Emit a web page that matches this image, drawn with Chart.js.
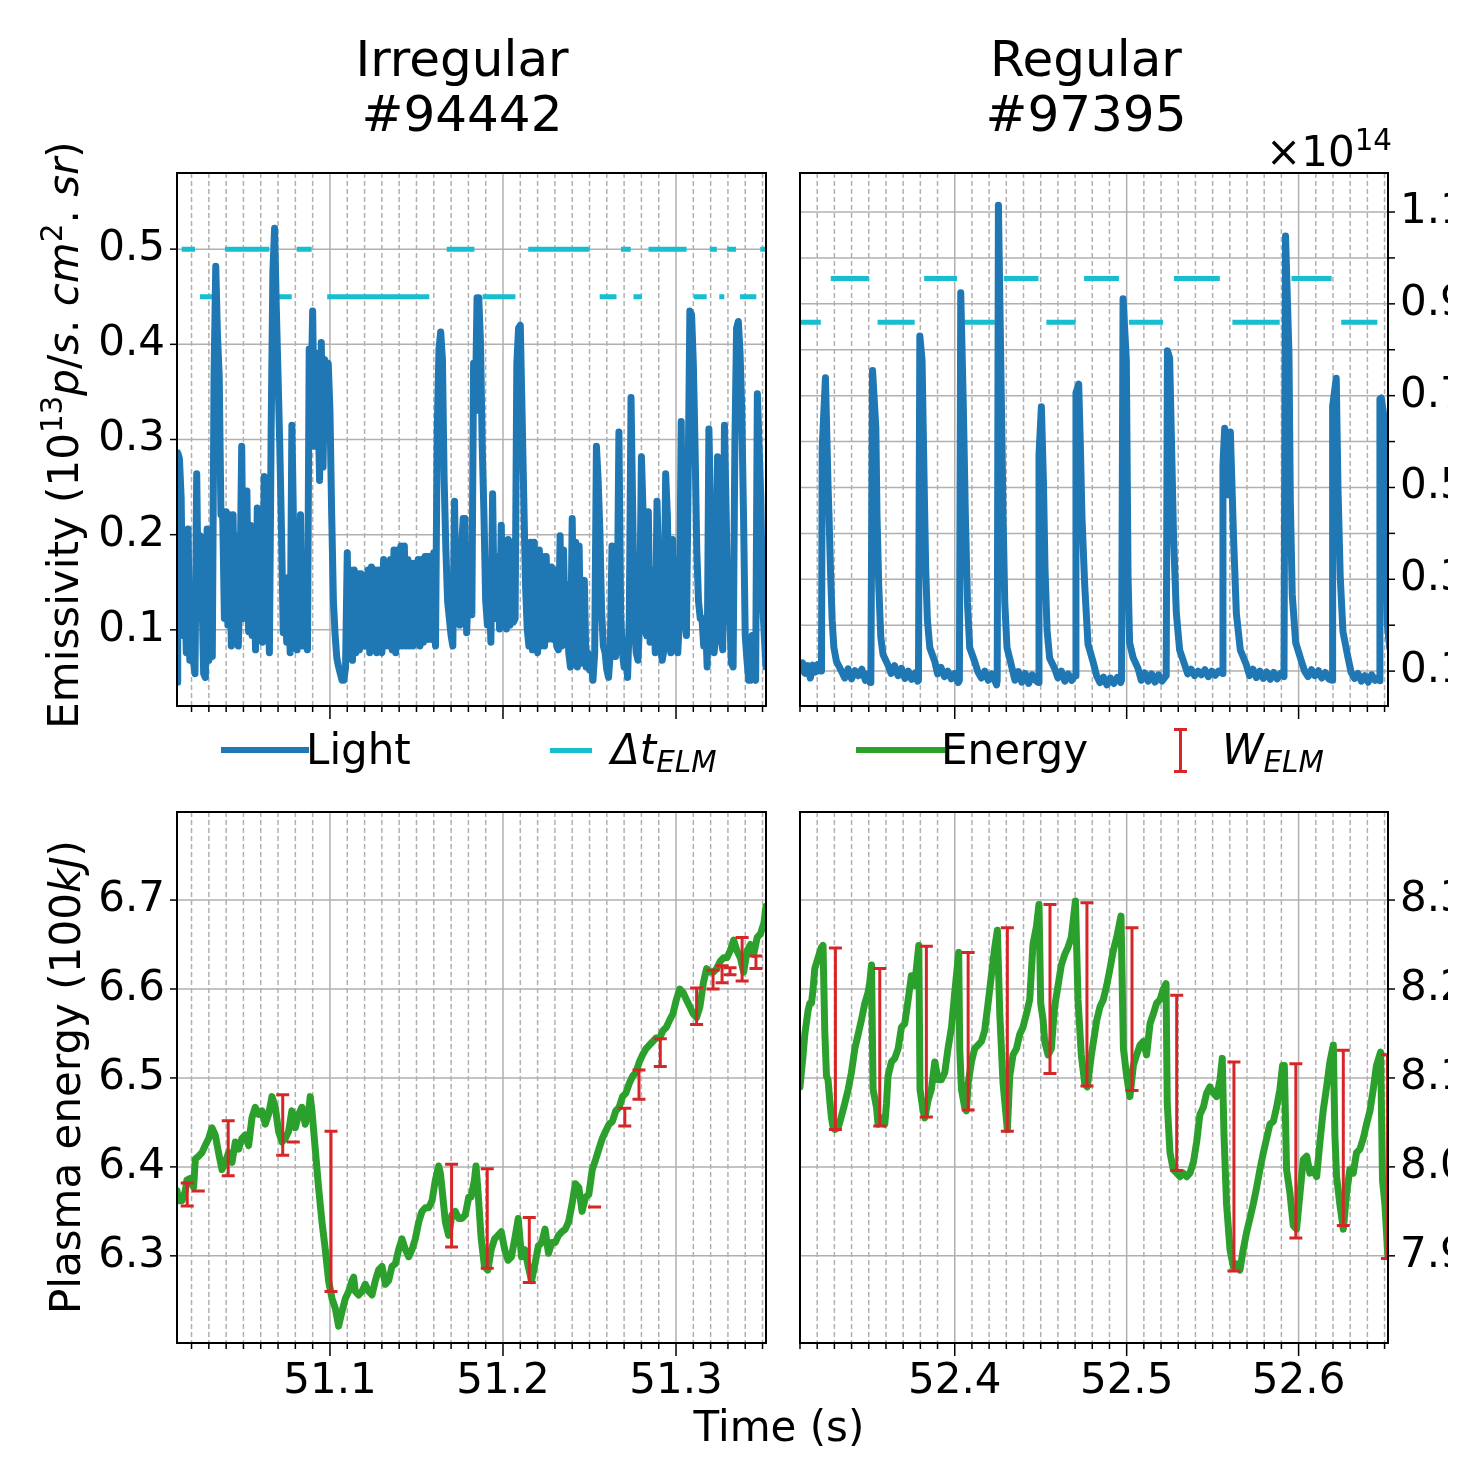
<!DOCTYPE html>
<html>
<head>
<meta charset="utf-8">
<script src="https://cdn.jsdelivr.net/npm/chart.js@4.4.1/dist/chart.umd.min.js"></script>
<style>
  body { margin: 0; width: 1463px; height: 1458px; overflow: hidden; position: relative; background: #fff; font-family: "DejaVu Sans", sans-serif; }
  canvas { position: absolute; left: 0; top: 0; }
  .txt { position: absolute; font-size: 42px; line-height: 42px; color: #000; white-space: nowrap; z-index: 5; }
  .title { position: absolute; font-size: 50px; line-height: 55px; text-align: center; transform: translateX(-50%); white-space: nowrap; z-index: 5; }
  .rot { transform: translate(-50%, -50%) rotate(-90deg); }
  .hl { position: absolute; z-index: 5; }
  sup { font-size: 70%; position: relative; top: -0.55em; vertical-align: baseline; }
  sub { font-size: 70%; position: relative; top: 0.28em; vertical-align: baseline; }
</style>
</head>
<body>
<canvas id="tl" width="1463" height="1458"></canvas>
<canvas id="tr" width="1463" height="1458"></canvas>
<canvas id="bl" width="1463" height="1458"></canvas>
<canvas id="br" width="1463" height="1458"></canvas>

<div class="title" style="left:462px;top:32px">Irregular<br>#94442</div>
<div class="title" style="left:1086px;top:32px">Regular<br>#97395</div>
<div class="txt" style="left:1266px;top:131px">×10<sup>14</sup></div>
<div class="txt rot" style="left:66px;top:435px">Emissivity (10<sup>13</sup><i>p</i>/<i>s</i>. <i>cm</i><sup>2</sup>. <i>sr</i>)</div>
<div class="txt rot" style="left:66px;top:1077px">Plasma energy (100<i>kJ</i>)</div>
<div class="txt" style="left:779px;top:1406px;transform:translateX(-50%)">Time (s)</div>

<div class="hl" style="left:221px;top:747px;width:88px;height:6px;background:#1f77b4"></div>
<div class="txt" style="left:306px;top:729px">Light</div>
<div class="hl" style="left:550px;top:748px;width:42px;height:5px;background:#17becf"></div>
<div class="txt" style="left:611px;top:729px"><i>Δt<sub>ELM</sub></i></div>
<div class="hl" style="left:856px;top:747px;width:89px;height:6px;background:#2ca02c"></div>
<div class="txt" style="left:941px;top:729px">Energy</div>
<div class="hl" style="left:1179px;top:729px;width:3px;height:43px;background:#d62728"></div>
<div class="hl" style="left:1174px;top:728px;width:13px;height:3px;background:#d62728"></div>
<div class="hl" style="left:1174px;top:770px;width:13px;height:3px;background:#d62728"></div>
<div class="txt" style="left:1222px;top:729px"><i>W<sub>ELM</sub></i></div>

<script>
// ---------- data ----------
// irregular shot #94442 : light signal (1e13 p/s.cm2.sr)
const tLightL = [51.0116,
51.012,51.013,51.014,51.015,51.016,51.017,51.018,51.019,51.020,51.021,
51.022,51.023,51.024,51.025,51.026,51.027,51.028,51.029,51.030,51.031,
51.032,51.033,51.034,51.035,51.036,51.037,51.038,51.039,51.040,51.041,
51.042,51.043,51.044,51.045,51.046,51.047,51.048,51.049,51.050,51.051,
51.052,51.053,51.054,51.055,51.056,51.057,51.058,51.059,51.060,51.061,
51.062,51.063,51.064,51.065,51.066,51.067,51.068,51.069,51.070,51.071,
51.072,51.073,51.074,51.075,51.076,51.077,51.078,51.079,51.080,51.081,
51.082,51.083,51.084,51.085,51.086,51.087,51.088,51.089,51.090,51.091,
51.092,51.093,51.094,51.095,51.096,51.097,51.098,51.099,51.100,51.101,
51.102,51.103,51.104,51.105,51.106,51.107,51.108,51.109,51.110,51.111,
51.112,51.113,51.114,51.115,51.116,51.117,51.118,51.119,51.120,51.121,
51.122,51.123,51.124,51.125,51.126,51.127,51.128,51.129,51.130,51.131,
51.132,51.133,51.134,51.135,51.136,51.137,51.138,51.139,51.140,51.141,
51.142,51.143,51.144,51.145,51.146,51.147,51.148,51.149,51.150,51.151,
51.152,51.153,51.154,51.155,51.156,51.157,51.158,51.159,51.160,51.161,
51.162,51.163,51.164,51.165,51.166,51.167,51.168,51.169,51.170,51.171,
51.172,51.173,51.174,51.175,51.176,51.177,51.178,51.179,51.180,51.181,
51.182,51.183,51.184,51.185,51.186,51.187,51.188,51.189,51.190,51.191,
51.192,51.193,51.194,51.195,51.196,51.197,51.198,51.199,51.200,51.201,
51.202,51.203,51.204,51.205,51.206,51.207,51.208,51.209,51.210,51.211,
51.212,51.213,51.214,51.215,51.216,51.217,51.218,51.219,51.220,51.221,
51.222,51.223,51.224,51.225,51.226,51.227,51.228,51.229,51.230,51.231,
51.232,51.233,51.234,51.235,51.236,51.237,51.238,51.239,51.240,51.241,
51.242,51.243,51.244,51.245,51.246,51.247,51.248,51.249,51.250,51.251,
51.252,51.253,51.254,51.255,51.256,51.257,51.258,51.259,51.260,51.261,
51.262,51.263,51.264,51.265,51.266,51.267,51.268,51.269,51.270,51.271,
51.272,51.273,51.274,51.275,51.276,51.277,51.278,51.279,51.280,51.281,
51.282,51.283,51.284,51.285,51.286,51.287,51.288,51.289,51.290,51.291,
51.292,51.293,51.294,51.295,51.296,51.297,51.298,51.299,51.300,51.301,
51.302,51.303,51.304,51.305,51.306,51.307,51.308,51.309,51.310,51.311,
51.312,51.313,51.314,51.315,51.316,51.317,51.318,51.319,51.320,51.321,
51.322,51.323,51.324,51.325,51.326,51.327,51.328,51.329,51.330,51.331,
51.332,51.333,51.334,51.335,51.336,51.337,51.338,51.339,51.340,51.341,
51.342,51.343,51.344,51.345,51.346,51.347,51.348,51.349,51.350,51.351,
51.352];
const lightL = [0.045,
0.286,0.280,0.239,0.094,0.148,0.076,0.206,0.068,0.134,0.068,0.054,0.264,0.112,0.199,
0.141,0.054,0.050,0.206,0.068,0.156,0.072,0.366,0.482,0.409,0.366,0.221,0.221,0.112,0.224,0.105,0.221,0.083,0.221,0.105,0.199,0.083,0.148,0.293,0.112,0.221,
0.246,0.098,0.210,0.094,0.155,0.079,0.228,0.112,0.221,0.087,0.261,0.112,0.155,0.076,0.308,0.475,0.522,0.438,0.366,0.293,0.203,0.097,0.148,0.087,0.155,0.076,
0.315,0.203,0.130,0.079,0.148,0.221,0.083,0.130,0.159,0.079,0.395,0.337,0.435,0.293,0.391,0.348,0.257,0.402,0.271,0.384,0.377,0.380,0.330,0.221,0.130,0.094,
0.070,0.061,0.054,0.047,0.047,0.060,0.181,0.072,0.163,0.068,0.163,0.076,0.159,0.079,0.159,0.083,0.155,0.083,0.163,0.076,0.166,0.079,0.163,0.076,0.163,0.079,
0.076,0.174,0.083,0.170,0.083,0.174,0.079,0.184,0.076,0.184,0.083,0.188,0.083,0.188,0.083,0.174,0.083,0.170,0.083,0.170,0.087,0.174,0.083,0.174,0.087,0.177,
0.177,0.090,0.177,0.090,0.181,0.083,0.311,0.395,0.413,0.384,0.257,0.184,0.130,0.112,0.094,0.083,0.235,0.112,0.148,0.105,0.184,0.217,
0.217,0.097,0.148,0.188,0.116,0.380,0.330,0.449,0.449,0.402,0.293,0.221,0.130,0.105,0.148,0.087,0.243,0.112,
0.112,0.177,0.101,0.210,0.112,0.177,0.101,0.195,0.105,0.192,0.108,0.112,0.380,0.417,0.420,0.330,0.239,0.148,0.101,0.083,0.192,0.079,0.192,0.083,0.076,0.184,0.083,0.177,0.083,0.177,0.090,0.116,0.166,0.090,0.163,0.083,
0.079,0.199,0.083,0.184,0.094,0.148,0.076,0.061,0.217,0.087,0.192,0.061,0.188,0.065,0.130,0.152,0.061,0.076,0.058,0.065,0.047,0.076,0.293,0.257,0.203,0.119,0.083,0.076,0.058,0.050,0.076,0.188,0.112,0.072,0.112,0.308,
0.116,0.076,0.061,0.076,0.050,0.112,0.344,0.221,0.101,0.076,0.068,0.112,0.282,0.221,0.101,0.094,0.224,0.087,0.097,0.163,0.076,0.235,0.166,0.083,0.068,0.079,0.264,0.221,0.112,0.076,0.195,0.079,0.174,0.076,0.112,0.319,
0.112,0.116,0.094,0.257,0.435,0.431,0.380,0.293,0.184,0.130,0.112,0.112,0.083,0.112,0.061,0.311,0.221,0.148,0.076,0.094,0.282,0.221,0.094,0.079,0.315,0.221,0.112,0.116,0.065,0.061,0.293,0.417,0.424,0.391,0.330,0.221,
0.094,0.068,0.047,0.047,0.094,0.050,0.047,0.348,0.293,0.239,0.130,0.094,0.061];

// inter-ELM time bars (start, end, level)
const dtStartL = [51.0105,51.0143,51.0249,51.0393,51.0692,51.0808,51.0984,51.1675,51.1882,51.2146,51.2559,51.2682,51.2754,51.2841,51.3104,51.3195,51.3250,51.3295,51.3370,51.3487];
const dtEndL   = [51.0118,51.0220,51.0335,51.0649,51.0779,51.0894,51.1574,51.1835,51.2072,51.2501,51.2656,51.2738,51.2802,51.3061,51.3177,51.3236,51.3279,51.3347,51.3464,51.3540];
const dtLevelL = [0.45,0.5,0.45,0.5,0.45,0.5,0.45,0.5,0.45,0.5,0.45,0.5,0.45,0.5,0.45,0.5,0.45,0.5,0.45,0.5];

// plasma energy (100 kJ)
const energyL = [[51.0116,6.373],[51.0125,6.362],[51.0145,6.362],[51.0164,6.373],[51.0173,6.385],[51.0193,6.387],[51.0212,6.377],[51.0222,6.409],[51.0241,6.412],[51.0260,6.416],
[51.0279,6.424],[51.0299,6.432],[51.0318,6.444],[51.0337,6.436],[51.0356,6.416],[51.0376,6.397],[51.0395,6.405],[51.0414,6.416],[51.0434,6.405],[51.0453,6.428],
[51.0472,6.420],[51.0491,6.432],[51.0511,6.436],[51.0530,6.424],[51.0549,6.455],[51.0568,6.467],[51.0588,6.459],[51.0607,6.463],[51.0626,6.448],[51.0645,6.459],
[51.0665,6.479],[51.0684,6.467],[51.0703,6.440],[51.0723,6.428],[51.0742,6.432],[51.0761,6.440],[51.0780,6.463],[51.0800,6.444],[51.0819,6.459],[51.0838,6.467],
[51.0857,6.448],[51.0877,6.463],[51.0886,6.479],[51.0896,6.463],[51.0915,6.420],[51.0934,6.377],[51.0954,6.338],[51.0973,6.307],[51.0992,6.272],[51.1012,6.252],
[51.1031,6.241],[51.1050,6.221],[51.1069,6.237],[51.1089,6.252],[51.1108,6.260],[51.1127,6.272],[51.1137,6.276],[51.1146,6.260],[51.1166,6.256],[51.1185,6.260],
[51.1204,6.268],[51.1224,6.260],[51.1243,6.256],[51.1262,6.272],[51.1281,6.284],[51.1301,6.288],[51.1320,6.268],[51.1339,6.272],[51.1358,6.288],[51.1378,6.291],
[51.1397,6.307],[51.1416,6.319],[51.1436,6.307],[51.1455,6.299],[51.1474,6.307],[51.1493,6.319],[51.1513,6.338],[51.1532,6.350],[51.1551,6.354],[51.1570,6.354],
[51.1590,6.362],[51.1609,6.385],[51.1628,6.401],[51.1638,6.393],[51.1647,6.377],[51.1667,6.338],[51.1686,6.323],[51.1705,6.346],[51.1724,6.350],[51.1744,6.342],
[51.1763,6.342],[51.1782,6.346],[51.1802,6.366],[51.1815,6.366],[51.1835,6.385],[51.1844,6.401],[51.1854,6.377],[51.1874,6.319],[51.1893,6.288],[51.1912,6.284],
[51.1932,6.307],[51.1951,6.319],[51.1971,6.323],[51.1990,6.327],[51.2010,6.307],[51.2029,6.295],[51.2049,6.299],[51.2068,6.319],[51.2088,6.342],[51.2107,6.299],
[51.2126,6.307],[51.2146,6.288],[51.2165,6.272],[51.2185,6.291],[51.2204,6.311],[51.2224,6.315],[51.2243,6.330],[51.2263,6.303],[51.2282,6.315],[51.2302,6.315],
[51.2321,6.323],[51.2340,6.327],[51.2360,6.330],[51.2379,6.338],[51.2399,6.358],[51.2418,6.381],[51.2438,6.377],[51.2457,6.350],[51.2477,6.366],[51.2496,6.369],
[51.2516,6.397],[51.2535,6.408],[51.2554,6.420],[51.2574,6.432],[51.2593,6.440],[51.2613,6.448],[51.2632,6.451],[51.2652,6.463],[51.2671,6.467],[51.2691,6.479],
[51.2710,6.483],[51.2730,6.494],[51.2749,6.502],[51.2768,6.506],[51.2788,6.518],[51.2807,6.526],[51.2827,6.533],[51.2846,6.537],[51.2866,6.541],[51.2885,6.545],
[51.2905,6.545],[51.2924,6.553],[51.2944,6.557],[51.2963,6.565],[51.2982,6.572],[51.3002,6.588],[51.3021,6.600],[51.3041,6.596],[51.3060,6.588],[51.3080,6.580],
[51.3099,6.572],[51.3119,6.568],[51.3138,6.580],[51.3158,6.607],[51.3177,6.623],[51.3196,6.619],[51.3216,6.619],[51.3235,6.623],[51.3255,6.631],[51.3274,6.635],
[51.3294,6.635],[51.3313,6.643],[51.3333,6.655],[51.3352,6.643],[51.3372,6.635],[51.3391,6.619],[51.3411,6.643],[51.3430,6.650],[51.3449,6.639],[51.3469,6.658],
[51.3488,6.662],[51.3508,6.674],[51.3520,6.693]];

// ELM energy drops (time, before, after)
const welmTL   = [51.0175,51.0239,51.0412,51.0727,51.0788,51.1006,51.1703,51.1909,51.2152,51.2529,51.2704,51.2786,51.2909,51.3119,51.3214,51.3266,51.3312,51.3382,51.3462];
const welmTopL = [6.382,6.373,6.452,6.481,6.428,6.440,6.403,6.398,6.343,6.355,6.466,6.509,6.544,6.601,6.621,6.626,6.624,6.658,6.637];
const welmBotL = [6.356,6.373,6.390,6.413,6.428,6.260,6.310,6.286,6.270,6.355,6.446,6.476,6.513,6.560,6.600,6.607,6.616,6.609,6.623];

// regular shot #97395 : light signal (1e14)
const lightR = [[52.3100,0.100],[52.3115,0.118],[52.3130,0.095],[52.3145,0.112],[52.3160,0.085],[52.3175,0.113],[52.3190,0.098],[52.3205,0.115],[52.3218,0.100],
[52.3225,0.100],[52.3229,0.586],[52.3248,0.739],[52.3263,0.504],[52.3269,0.436],[52.3277,0.324],[52.3287,0.211],[52.3297,0.151],[52.3312,0.121],[52.3341,0.100],
[52.3360,0.085],[52.3380,0.105],[52.3400,0.083],[52.3420,0.101],[52.3440,0.090],[52.3460,0.104],[52.3480,0.080],[52.3500,0.095],[52.3508,0.075],
[52.3512,0.080],[52.3522,0.755],[52.3541,0.631],[52.3548,0.436],[52.3558,0.286],[52.3570,0.174],[52.3583,0.136],[52.3612,0.113],
[52.3630,0.095],[52.3650,0.112],[52.3670,0.090],[52.3690,0.106],[52.3710,0.084],[52.3730,0.100],[52.3750,0.082],[52.3770,0.096],[52.3785,0.078],
[52.3789,0.080],[52.3797,0.830],[52.3810,0.777],[52.3822,0.511],[52.3831,0.324],[52.3841,0.211],[52.3855,0.151],[52.3884,0.121],
[52.3900,0.094],[52.3920,0.108],[52.3940,0.088],[52.3960,0.100],[52.3980,0.083],[52.4000,0.095],[52.4020,0.075],
[52.4027,0.080],[52.4035,0.924],[52.4050,0.676],[52.4062,0.436],[52.4074,0.249],[52.4087,0.151],[52.4116,0.121],
[52.4135,0.098],[52.4155,0.085],[52.4175,0.100],[52.4195,0.080],[52.4215,0.094],[52.4235,0.078],[52.4243,0.070],
[52.4247,0.080],[52.4254,1.115],[52.4271,0.691],[52.4281,0.436],[52.4291,0.249],[52.4304,0.151],[52.4329,0.113],
[52.4350,0.080],[52.4370,0.099],[52.4390,0.076],[52.4410,0.095],[52.4430,0.073],[52.4450,0.092],[52.4470,0.080],[52.4486,0.075],
[52.4490,0.571],[52.4504,0.676],[52.4516,0.511],[52.4525,0.324],[52.4537,0.189],[52.4552,0.128],[52.4581,0.106],
[52.4600,0.085],[52.4620,0.100],[52.4640,0.078],[52.4660,0.094],[52.4680,0.080],[52.4700,0.090],
[52.4705,0.706],[52.4721,0.725],[52.4731,0.586],[52.4740,0.436],[52.4756,0.286],[52.4775,0.159],[52.4804,0.121],
[52.4825,0.090],[52.4845,0.075],[52.4865,0.087],[52.4885,0.070],[52.4905,0.085],[52.4925,0.073],[52.4945,0.086],[52.4965,0.075],
[52.4970,0.080],[52.4979,0.911],[52.4998,0.778],[52.5008,0.307],[52.5017,0.162],[52.5037,0.130],[52.5066,0.106],
[52.5085,0.080],[52.5105,0.096],[52.5125,0.078],[52.5145,0.094],[52.5165,0.076],[52.5185,0.092],[52.5205,0.078],[52.5225,0.088],
[52.5230,0.090],[52.5237,0.798],[52.5250,0.782],[52.5273,0.387],[52.5289,0.226],[52.5308,0.146],[52.5337,0.114],
[52.5355,0.094],[52.5375,0.104],[52.5395,0.090],[52.5415,0.100],[52.5435,0.092],[52.5455,0.103],[52.5475,0.088],[52.5495,0.100],[52.5515,0.091],[52.5535,0.100],[52.5555,0.095],
[52.5560,0.548],[52.5570,0.629],[52.5580,0.605],[52.5589,0.484],[52.5603,0.621],[52.5622,0.387],[52.5638,0.226],[52.5661,0.146],[52.5696,0.114],
[52.5715,0.090],[52.5735,0.104],[52.5755,0.086],[52.5775,0.100],[52.5795,0.084],[52.5815,0.098],[52.5835,0.082],[52.5855,0.097],[52.5875,0.083],[52.5895,0.095],[52.5915,0.088],
[52.5919,0.500],[52.5924,1.048],[52.5944,0.790],[52.5952,0.468],[52.5963,0.267],[52.5983,0.162],[52.6016,0.122],
[52.6035,0.100],[52.6055,0.088],[52.6075,0.103],[52.6095,0.090],[52.6115,0.101],[52.6135,0.085],[52.6155,0.097],[52.6175,0.083],[52.6195,0.080],
[52.6198,0.677],[52.6219,0.738],[52.6229,0.500],[52.6242,0.307],[52.6258,0.186],[52.6287,0.130],
[52.6305,0.098],[52.6325,0.084],[52.6345,0.095],[52.6365,0.078],[52.6385,0.090],[52.6405,0.076],[52.6425,0.092],[52.6445,0.080],[52.6465,0.086],[52.6471,0.079],
[52.6473,0.693],[52.6481,0.695],[52.6494,0.661],[52.6505,0.450],[52.6516,0.202],[52.6530,0.150]];

const dtStartR = [52.3090,52.3279,52.3551,52.3822,52.4058,52.4285,52.4533,52.4752,52.5013,52.5275,52.5615,52.5959,52.6248,52.6516];
const dtEndR   = [52.3221,52.3500,52.3767,52.4013,52.4233,52.4487,52.4703,52.4955,52.5211,52.5542,52.5890,52.6192,52.6458,52.6540];
const dtLevelR = [0.86,0.955,0.86,0.955,0.86,0.955,0.86,0.955,0.86,0.955,0.86,0.955,0.86,0.955];

const energyR = [[52.3100,8.090],[52.3118,8.126],[52.3128,8.149],[52.3147,8.176],[52.3157,8.184],[52.3167,8.184],[52.3176,8.200],[52.3186,8.223],[52.3205,8.235],[52.3225,8.247],
[52.3234,8.249],[52.3244,8.153],[52.3254,8.102],[52.3263,8.098],[52.3273,8.075],[52.3283,8.055],[52.3293,8.044],[52.3302,8.042],[52.3322,8.044],[52.3341,8.057],
[52.3360,8.071],[52.3380,8.087],[52.3399,8.106],[52.3419,8.133],[52.3438,8.149],[52.3457,8.165],[52.3477,8.184],[52.3496,8.196],[52.3506,8.208],[52.3516,8.227],
[52.3525,8.087],[52.3545,8.067],[52.3554,8.048],[52.3574,8.055],[52.3593,8.048],[52.3603,8.071],[52.3612,8.102],[52.3632,8.118],[52.3651,8.122],[52.3671,8.133],
[52.3690,8.157],[52.3709,8.161],[52.3729,8.188],[52.3748,8.215],[52.3767,8.204],[52.3777,8.223],[52.3791,8.249],[52.3798,8.087],[52.3816,8.063],[52.3826,8.055],
[52.3845,8.075],[52.3864,8.087],[52.3884,8.118],[52.3903,8.098],[52.3922,8.098],[52.3942,8.106],[52.3961,8.133],[52.3981,8.157],[52.4000,8.196],[52.4023,8.241],
[52.4029,8.133],[52.4039,8.087],[52.4058,8.067],[52.4068,8.063],[52.4078,8.094],[52.4097,8.118],[52.4116,8.133],[52.4136,8.137],[52.4155,8.141],[52.4174,8.153],
[52.4194,8.184],[52.4213,8.215],[52.4233,8.247],[52.4248,8.266],[52.4262,8.172],[52.4281,8.094],[52.4306,8.042],[52.4320,8.102],[52.4339,8.126],[52.4359,8.133],
[52.4378,8.149],[52.4397,8.157],[52.4417,8.172],[52.4436,8.188],[52.4455,8.250],[52.4475,8.270],[52.4490,8.295],[52.4500,8.184],[52.4514,8.165],[52.4523,8.141],
[52.4543,8.126],[52.4562,8.133],[52.4581,8.180],[52.4601,8.204],[52.4620,8.227],[52.4640,8.239],[52.4659,8.247],[52.4678,8.258],[52.4702,8.299],[52.4717,8.188],
[52.4736,8.126],[52.4756,8.094],[52.4771,8.090],[52.4795,8.126],[52.4826,8.165],[52.4845,8.180],[52.4864,8.188],[52.4884,8.204],[52.4903,8.223],[52.4922,8.243],
[52.4942,8.258],[52.4967,8.282],[52.4981,8.133],[52.5000,8.102],[52.5019,8.079],[52.5039,8.114],[52.5058,8.126],[52.5078,8.137],[52.5097,8.141],[52.5116,8.126],
[52.5136,8.161],[52.5155,8.172],[52.5174,8.184],[52.5194,8.188],[52.5213,8.200],[52.5229,8.206],[52.5236,8.071],[52.5252,8.016],[52.5271,7.997],[52.5291,7.993],
[52.5310,7.989],[52.5329,7.993],[52.5349,7.989],[52.5368,7.993],[52.5388,8.005],[52.5407,8.028],[52.5426,8.059],[52.5446,8.067],[52.5465,8.083],[52.5484,8.090],
[52.5504,8.083],[52.5523,8.079],[52.5543,8.098],[52.5556,8.122],[52.5566,8.036],[52.5581,7.958],[52.5601,7.907],[52.5620,7.888],[52.5640,7.891],[52.5659,7.884],
[52.5678,7.907],[52.5698,7.927],[52.5717,7.942],[52.5736,7.958],[52.5756,7.977],[52.5775,7.997],[52.5795,8.016],[52.5814,8.032],[52.5833,8.048],[52.5853,8.051],
[52.5872,8.067],[52.5891,8.087],[52.5907,8.114],[52.5917,8.114],[52.5930,7.997],[52.5950,7.970],[52.5969,7.934],[52.5988,7.930],[52.6008,7.970],[52.6027,8.008],
[52.6047,8.012],[52.6066,7.993],[52.6085,7.997],[52.6105,7.989],[52.6124,8.028],[52.6143,8.063],[52.6163,8.090],[52.6182,8.118],[52.6202,8.137],[52.6211,8.036],
[52.6221,7.989],[52.6240,7.958],[52.6260,7.930],[52.6279,7.970],[52.6298,7.997],[52.6318,7.993],[52.6337,8.016],[52.6357,8.020],[52.6376,8.032],[52.6395,8.048],
[52.6415,8.063],[52.6434,8.087],[52.6453,8.114],[52.6477,8.129],[52.6488,7.985],[52.6502,7.958],[52.6517,7.907],[52.6520,7.900]];

const welmTR   = [52.3306,52.3564,52.3835,52.4078,52.4306,52.4554,52.4769,52.5031,52.5291,52.5624,52.5984,52.6260,52.6517];
const welmTopR = [8.246,8.223,8.248,8.241,8.269,8.295,8.297,8.269,8.193,8.118,8.116,8.131,8.126];
const welmBotR = [8.042,8.046,8.056,8.064,8.040,8.105,8.091,8.086,7.996,7.883,7.920,7.934,7.897];

// tick labels
const xTicksL = [51.1, 51.2, 51.3];
const xTicksR = [52.4, 52.5, 52.6];
const yTicksTL = [0.1, 0.2, 0.3, 0.4, 0.5];
const yTicksTR = [0.1, 0.3, 0.5, 0.7, 0.9, 1.1];
const yGridTR = [0.1, 0.2, 0.3, 0.4, 0.5, 0.6, 0.7, 0.8, 0.9, 1.0, 1.1];
const yTicksBL = [6.3, 6.4, 6.5, 6.6, 6.7];
const yTicksBR = [7.9, 8.0, 8.1, 8.2, 8.3];

// ---------- helpers ----------
const FONT = 'DejaVu Sans';
const W = 1463, H = 1458;

function xy(pairs) { return pairs.map(p => ({ x: p[0], y: p[1] })); }

function dtSegments(st, en, lv) {
  const out = [];
  for (let i = 0; i < st.length; i++) {
    out.push({ x: st[i], y: lv[i] }, { x: en[i], y: lv[i] }, { x: en[i], y: null });
  }
  return out;
}

function minorTicks(min, max, major) {
  const out = [];
  for (let i = Math.ceil(min * 100); i <= Math.floor(max * 100); i++) {
    const v = i / 100;
    if (!major.some(m => Math.abs(m - v) < 1e-6)) out.push(v);
  }
  return out;
}

function framePlugin(o) {
  return {
    id: 'frame',
    beforeDatasetsDraw(chart) {
      const { ctx, chartArea: a, scales: { x, y } } = chart;
      ctx.save();
      ctx.strokeStyle = '#b0b0b0';
      ctx.lineWidth = 1.5;
      ctx.setLineDash([5, 3]);
      o.xMinor.forEach(v => {
        const px = x.getPixelForValue(v);
        ctx.beginPath(); ctx.moveTo(px, a.top); ctx.lineTo(px, a.bottom); ctx.stroke();
      });
      ctx.setLineDash([]);
      o.xMajor.forEach(v => {
        const px = x.getPixelForValue(v);
        ctx.beginPath(); ctx.moveTo(px, a.top); ctx.lineTo(px, a.bottom); ctx.stroke();
      });
      o.yGrid.forEach(v => {
        const py = y.getPixelForValue(v);
        ctx.beginPath(); ctx.moveTo(a.left, py); ctx.lineTo(a.right, py); ctx.stroke();
      });
      ctx.restore();
    },
    afterDatasetsDraw(chart) {
      const { ctx, chartArea: a, scales: { x, y } } = chart;
      ctx.save();
      if (o.bars) {
        ctx.beginPath(); ctx.rect(a.left, a.top, a.right - a.left, a.bottom - a.top); ctx.clip();
        ctx.strokeStyle = '#d62728';
        ctx.lineWidth = 3;
        o.bars.t.forEach((t, i) => {
          const px = x.getPixelForValue(t);
          const y1 = y.getPixelForValue(o.bars.top[i]);
          const y2 = y.getPixelForValue(o.bars.bot[i]);
          ctx.beginPath();
          ctx.moveTo(px, y1); ctx.lineTo(px, y2);
          ctx.moveTo(px - 6.5, y1); ctx.lineTo(px + 6.5, y1);
          ctx.moveTo(px - 6.5, y2); ctx.lineTo(px + 6.5, y2);
          ctx.stroke();
        });
      }
      ctx.restore();
      ctx.save();
      ctx.strokeStyle = '#000';
      ctx.lineWidth = 2;
      ctx.strokeRect(a.left, a.top, a.right - a.left, a.bottom - a.top);
      ctx.lineWidth = 1.5;
      o.xMinor.forEach(v => {
        const px = x.getPixelForValue(v);
        ctx.beginPath(); ctx.moveTo(px, a.bottom); ctx.lineTo(px, a.bottom + 6); ctx.stroke();
      });
      o.xMajor.forEach(v => {
        const px = x.getPixelForValue(v);
        ctx.beginPath(); ctx.moveTo(px, a.bottom); ctx.lineTo(px, a.bottom + 13); ctx.stroke();
      });
      o.yGrid.forEach(v => {
        const py = y.getPixelForValue(v);
        ctx.beginPath();
        if (o.yPos === 'left') { ctx.moveTo(a.left - 7, py); ctx.lineTo(a.left, py); }
        else { ctx.moveTo(a.right, py); ctx.lineTo(a.right + 7, py); }
        ctx.stroke();
      });
      ctx.restore();
    }
  };
}

function panelChart(id, box, o) {
  const [L, T, R, B] = box;
  const yW = o.yPos === 'left' ? 120 : 60;
  const xH = o.xLabels ? 70 : 0;
  o.xMinor = minorTicks(o.xMin, o.xMax, o.xMajor);
  return new Chart(document.getElementById(id), {
    type: 'line',
    data: { datasets: o.datasets },
    options: {
      responsive: false,
      animation: false,
      devicePixelRatio: 1,
      layout: {
        padding: {
          left: o.yPos === 'left' ? L - yW : L,
          right: o.yPos === 'right' ? W - R - yW : W - R,
          top: T,
          bottom: H - B - xH
        }
      },
      plugins: { legend: { display: false }, tooltip: { enabled: false } },
      elements: { point: { radius: 0 } },
      scales: {
        x: {
          type: 'linear', min: o.xMin, max: o.xMax,
          afterBuildTicks: s => { s.ticks = o.xMajor.map(v => ({ value: v })); },
          afterFit: s => { s.height = xH; },
          grid: { display: false, drawTicks: false },
          border: { display: false },
          ticks: {
            display: !!o.xLabels, color: '#000', padding: 14, maxRotation: 0, autoSkip: false,
            font: { family: FONT, size: 42 }, callback: v => v.toFixed(1)
          }
        },
        y: {
          type: 'linear', position: o.yPos, min: o.yMin, max: o.yMax,
          afterBuildTicks: s => { s.ticks = o.yLabels.map(v => ({ value: v })); },
          afterFit: s => { s.width = yW; },
          grid: { display: false, drawTicks: false },
          border: { display: false },
          ticks: {
            color: '#000', padding: 12, font: { family: FONT, size: 42 },
            callback: v => v.toFixed(1)
          }
        }
      }
    },
    plugins: [framePlugin(o)]
  });
}

const lineStyle = (color, width) => ({
  borderColor: color, borderWidth: width, pointRadius: 0, fill: false,
  borderJoinStyle: 'round', borderCapStyle: 'round', clip: 0
});

// ---------- panels ----------
panelChart('tl', [177, 173, 766, 706], {
  xMin: 51.0116, xMax: 51.352, yMin: 0.020, yMax: 0.580,
  xMajor: xTicksL, yLabels: yTicksTL, yGrid: yTicksTL, yPos: 'left', xLabels: false,
  datasets: [
    Object.assign({ data: tLightL.map((t, i) => ({ x: t, y: lightL[i] })) }, lineStyle('#1f77b4', 7)),
    Object.assign({ data: dtSegments(dtStartL, dtEndL, dtLevelL) }, lineStyle('#17becf', 5), { borderCapStyle: 'butt' })
  ]
});

panelChart('tr', [800, 173, 1388, 706], {
  xMin: 52.310, xMax: 52.652, yMin: 0.024, yMax: 1.185,
  xMajor: xTicksR, yLabels: yTicksTR, yGrid: yGridTR, yPos: 'right', xLabels: false,
  datasets: [
    Object.assign({ data: xy(lightR) }, lineStyle('#1f77b4', 7)),
    Object.assign({ data: dtSegments(dtStartR, dtEndR, dtLevelR) }, lineStyle('#17becf', 5), { borderCapStyle: 'butt' })
  ]
});

panelChart('bl', [177, 812, 766, 1343], {
  xMin: 51.0116, xMax: 51.352, yMin: 6.202, yMax: 6.799,
  xMajor: xTicksL, yLabels: yTicksBL, yGrid: yTicksBL, yPos: 'left', xLabels: true,
  bars: { t: welmTL, top: welmTopL, bot: welmBotL },
  datasets: [Object.assign({ data: xy(energyL) }, lineStyle('#2ca02c', 7))]
});

panelChart('br', [800, 812, 1388, 1343], {
  xMin: 52.310, xMax: 52.652, yMin: 7.802, yMax: 8.399,
  xMajor: xTicksR, yLabels: yTicksBR, yGrid: yTicksBR, yPos: 'right', xLabels: true,
  bars: { t: welmTR, top: welmTopR, bot: welmBotR },
  datasets: [Object.assign({ data: xy(energyR) }, lineStyle('#2ca02c', 7))]
});
</script>
</body>
</html>
